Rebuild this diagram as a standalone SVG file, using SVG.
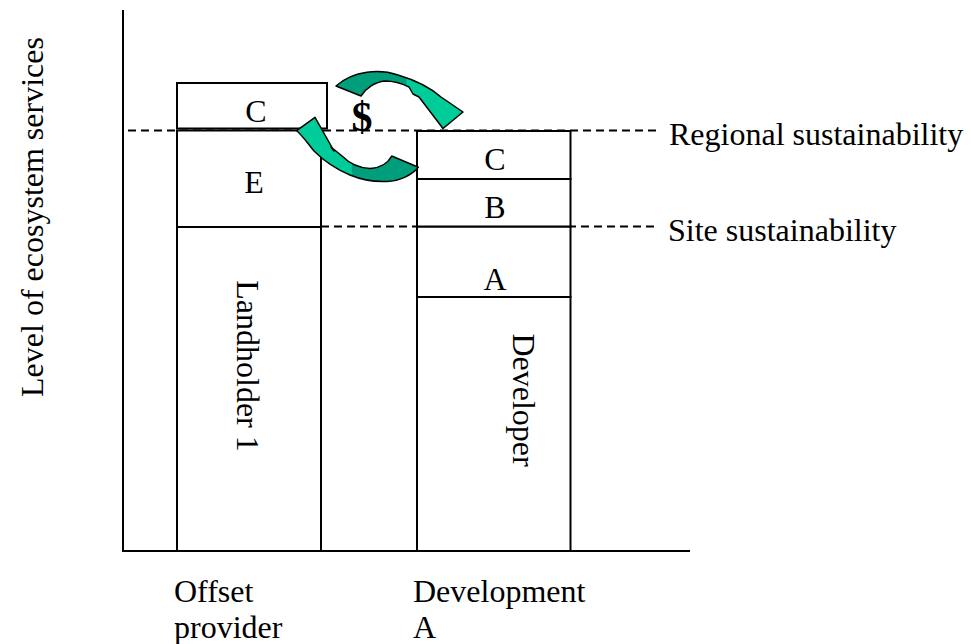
<svg xmlns="http://www.w3.org/2000/svg" width="971" height="644" viewBox="0 0 971 644">
<style>
text{font-family:"Liberation Serif","Times New Roman",serif;font-size:32px;fill:#000}
.mid{text-anchor:middle}
.box{fill:#fff;stroke:#000;stroke-width:2}
.ax{stroke:#000;stroke-width:2;fill:none}
.dash{stroke:#000;stroke-width:2;stroke-dasharray:8 5;fill:none}
.arr{stroke:#000;stroke-width:1.5;stroke-linejoin:round}
</style>
<defs>
<linearGradient id="gUp" gradientUnits="userSpaceOnUse" x1="336" y1="0" x2="463" y2="0">
<stop offset="0" stop-color="#009E7A"/><stop offset="0.55" stop-color="#009E7A"/><stop offset="0.56" stop-color="#00CC99"/><stop offset="1" stop-color="#00CC99"/>
</linearGradient>
<linearGradient id="gLow" gradientUnits="userSpaceOnUse" x1="296" y1="0" x2="419" y2="0">
<stop offset="0" stop-color="#00CC99"/><stop offset="0.45" stop-color="#00CC99"/><stop offset="0.46" stop-color="#009E7A"/><stop offset="1" stop-color="#009E7A"/>
</linearGradient>
</defs>

<g id="guides">
<line class="dash" x1="128" y1="130.5" x2="657" y2="130.5"/>
<line class="dash" x1="321" y1="226.5" x2="657" y2="226.5"/>
</g>

<g id="axes">
<line class="ax" x1="123" y1="10" x2="123" y2="552"/>
<line class="ax" x1="122" y1="551" x2="690" y2="551"/>
</g>

<g id="offset-provider">
<rect class="box" x="177" y="227" width="144" height="324"/>
<rect class="box" x="177" y="130.5" width="144" height="96.5"/>
<rect class="box" x="177" y="83" width="150" height="45.5"/>
<text class="mid" x="256" y="122">C</text>
<text class="mid" x="254" y="193">E</text>
<text class="mid" transform="translate(237,366) rotate(90)">Landholder 1</text>
</g>

<g id="development">
<rect class="box" x="417" y="297" width="153.5" height="254"/>
<rect class="box" x="417" y="226.5" width="153.5" height="70.5"/>
<rect class="box" x="417" y="179" width="153.5" height="47.5"/>
<rect class="box" x="417" y="131" width="153.5" height="48"/>
<text class="mid" x="495" y="170">C</text>
<text class="mid" x="495" y="218">B</text>
<text class="mid" x="495" y="290">A</text>
<text class="mid" transform="translate(513,400) rotate(90)">Developer</text>
</g>

<g id="connectors">
<path class="arr" fill="url(#gUp)" d="M336,86 C354,70 380,69 398,75 C418,81 432,89 441,97 L463,112 L443,128.5 L419,97 L413,94 L409,87 C401,83 393,81 385,81 C375,82 366,88 361,96 Z"/>
<path class="arr" fill="url(#gLow)" d="M296.7,130.7 L315,117.3 L334,151 L331,147 L342,156 C350,164 360,168 370,168.5 C380,168 388,163 391.7,156 L418.3,167.3 C412,175 400,181 386.7,181.5 C375,182 362,180 350,175 C338,170 324,161 314,151 C308,144 303,136 296.7,130.7 Z"/>
</g>

<text id="dollar" class="mid" x="362" y="131" style="font-weight:bold;font-size:42px">$</text>

<g id="labels">
<text x="669" y="145">Regional sustainability</text>
<text x="668" y="241">Site sustainability</text>
<text class="mid" transform="translate(43,217) rotate(-90)">Level of ecosystem services</text>
<text x="174" y="602">Offset</text>
<text x="174" y="638">provider</text>
<text x="413" y="602">Development</text>
<text x="413" y="638">A</text>
</g>
</svg>
